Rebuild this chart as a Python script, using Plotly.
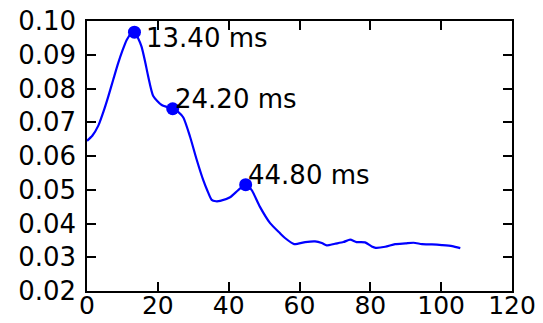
import plotly.graph_objects as go

# Curve (time in ms, value)
t = [0, 1.5, 3.2, 4.6, 6.0, 7.4, 8.8, 10.0, 11.2, 12.4, 13.4, 14.4, 15.4, 16.4, 17.3, 18.7,
     21.1, 24.2, 25.8, 27.2, 29.1, 31.0, 32.8, 34.0, 35.2, 36.4, 37.6, 40.4, 42.7, 44.8,
     46.5, 48.8, 51.7, 54.5, 55.9, 58.5, 61.6, 64.4, 66.3, 67.7, 70.0, 72.4, 74.3, 76.1,
     78.5, 80.4, 81.5, 84.2, 87.0, 89.9, 92.2, 94.6, 97.4, 100.2, 103.1, 105.4]
v = [0.0645, 0.0660, 0.0690, 0.0730, 0.0776, 0.0826, 0.0875, 0.0912, 0.0944, 0.0962, 0.0967,
     0.0950, 0.0924, 0.0880, 0.0835, 0.0778, 0.0751, 0.0740, 0.0730, 0.0714, 0.0657, 0.0588,
     0.0529, 0.0497, 0.0470, 0.0466, 0.0467, 0.0478, 0.0499, 0.0515, 0.0499, 0.0450, 0.0401,
     0.0371, 0.0357, 0.0339, 0.0345, 0.0347, 0.0342, 0.0335, 0.0340, 0.0345, 0.0352, 0.0345,
     0.0344, 0.0332, 0.0328, 0.0331, 0.0339, 0.0341, 0.0343, 0.0339, 0.0338, 0.0336, 0.0333,
     0.0327]

# Marked points
peak_t = [13.4, 24.2, 44.8]
peak_v = [0.0967, 0.0740, 0.0515]
peak_labels = ["13.40 ms", "24.20 ms", "44.80 ms"]
label_t = [16.1, 24.2, 44.8]
label_v = [0.0921, 0.0740, 0.0515]

x_ticks = [0, 20, 40, 60, 80, 100, 120]
y_ticks = [0.02, 0.03, 0.04, 0.05, 0.06, 0.07, 0.08, 0.09, 0.10]

FONT = "DejaVu Sans"

fig = go.Figure()
fig.add_trace(go.Scatter(x=t, y=v, mode="lines", line=dict(color="#0000ff", width=2.2, shape="spline", smoothing=0.6),
                         showlegend=False, hoverinfo="skip"))
fig.add_trace(go.Scatter(x=peak_t, y=peak_v, mode="markers",
                         marker=dict(color="#0000ff", size=13, line=dict(width=0)),
                         showlegend=False))

for lx, ly, lab in zip(label_t, label_v, peak_labels):
    fig.add_annotation(x=lx, y=ly, text=lab, showarrow=False, xanchor="left", yanchor="middle",
                       yshift=10, font=dict(family=FONT, size=26, color="#000000"))

axis_common = dict(showgrid=False, zeroline=False, showline=True, linecolor="black", linewidth=1.5,
                   mirror="ticks", ticks="inside", ticklen=9, tickwidth=1.5, tickcolor="black",
                   automargin=False)

fig.update_xaxes(range=[0, 120], tickvals=x_ticks, ticktext=[str(x) for x in x_ticks],
                 ticklabelstandoff=-9, tickfont=dict(family=FONT, size=25, color="#000000"),
                 **axis_common)
fig.update_yaxes(range=[0.02, 0.10], tickvals=y_ticks, ticktext=[f"{y:.2f}" for y in y_ticks],
                 ticklabelstandoff=4, tickfont=dict(family=FONT, size=26, color="#000000"),
                 **axis_common)

fig.update_layout(width=543, height=323, margin=dict(l=87, r=31, t=21, b=32),
                  paper_bgcolor="white", plot_bgcolor="white")

fig.write_html("out.html")
